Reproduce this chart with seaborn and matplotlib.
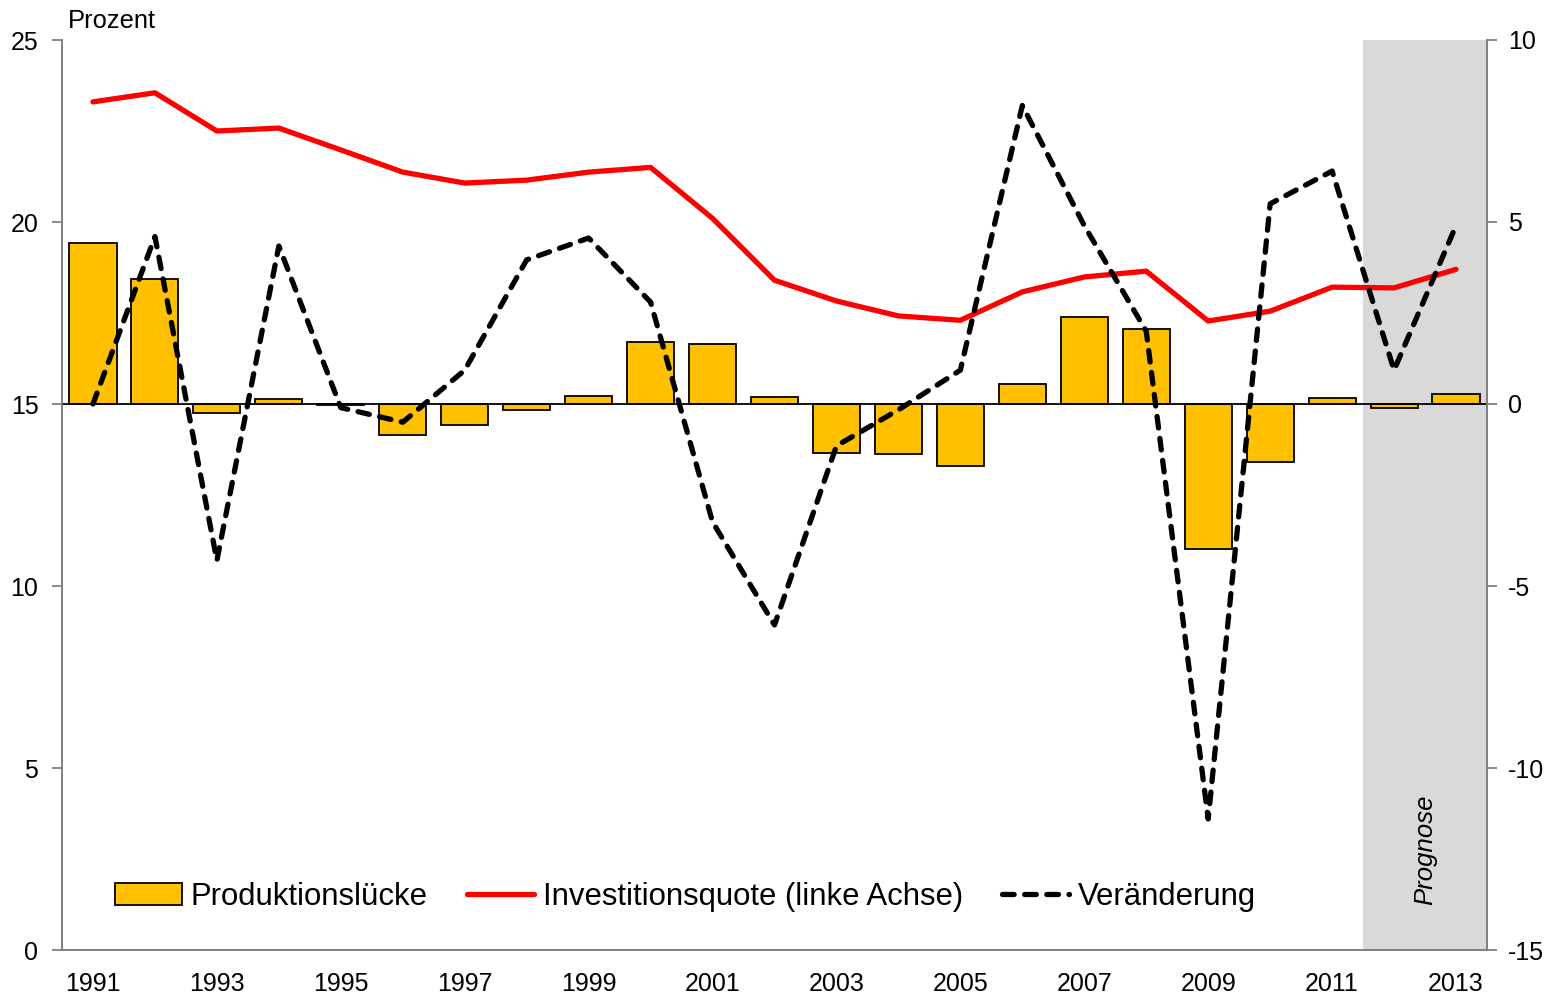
import numpy as np
import matplotlib
matplotlib.use("Agg")
import matplotlib.pyplot as plt
import seaborn as sns

years = [str(y) for y in range(1991, 2014)]

# Investitionsquote, Prozent (linke Achse)
quote = [23.3, 23.55, 22.5, 22.58, 21.98, 21.37, 21.07, 21.15, 21.37, 21.5, 20.1,
         18.4, 17.83, 17.42, 17.3, 18.08, 18.49, 18.65, 17.28, 17.55, 18.21, 18.19, 18.7]

# Produktionslücke (rechte Achse)
luecke = [4.42, 3.43, -0.25, 0.14, -0.03, -0.85, -0.58, -0.16, 0.22, 1.70, 1.65,
          0.19, -1.35, -1.37, -1.70, 0.55, 2.39, 2.06, -3.98, -1.59, 0.16, -0.11, 0.27]

# Veränderung (rechte Achse)
veraenderung = [0.0, 4.6, -4.3, 4.34, -0.1, -0.5, 0.93, 3.96, 4.56, 2.8, -3.24,
                -6.07, -1.15, -0.16, 0.93, 8.2, 4.9, 2.0, -11.4, 5.5, 6.4, 0.93, 4.9]

sns.set_style("white")
plt.rcParams["font.family"] = ["Liberation Sans", "DejaVu Sans"]
plt.rcParams["axes.unicode_minus"] = False
plt.rcParams["text.color"] = "black"
plt.rcParams["xtick.color"] = "black"
plt.rcParams["ytick.color"] = "black"

grey = "#808080"
pos = np.arange(len(years))

fig = plt.figure(figsize=(15.56, 9.94), dpi=100)
ax = fig.add_axes([62 / 1556, 1 - 950 / 994, 1425 / 1556, 910 / 994])
ax2 = ax.twinx()

# Prognose band
ax.axvspan(20.5, 22.5, color="#d9d9d9", zorder=0, lw=0)
ax.text(21.5, 2.75, "Prognose", rotation=90, style="italic", fontsize=18.5,
        ha="center", va="center")

sns.lineplot(x=pos, y=quote, ax=ax, color="#ff0000", lw=3.8,
             label="Investitionsquote (linke Achse)", legend=False)
ax.lines[-1].set_solid_capstyle("round")

sns.barplot(x=years, y=luecke, ax=ax2, color="#ffc000", width=0.76,
            edgecolor="black", linewidth=1.3, saturation=1,
            label="Produktionslücke")
ax2.axhline(0, color="black", lw=1.3, zorder=1.5)
sns.lineplot(x=pos, y=veraenderung, ax=ax2, color="black", lw=3.8,
             label="Veränderung", legend=False)
dash = ax2.lines[-1]
dash.set_dashes((2.2, 2.0))
dash.set_dash_capstyle("round")

ax.set_ylim(0, 25)
ax2.set_ylim(-15, 10)
ax.set_yticks(np.arange(0, 26, 5))
ax2.set_yticks(np.arange(-15, 11, 5))
ax.set_xlim(-0.5, 22.5)

ax.set_xticks(pos[::2])
ax.set_xticklabels(years[::2])
ax.set_xticks([-0.5, 3.5, 7.5, 11.5, 15.5, 19.5], minor=True)
ax.tick_params(axis="x", which="major", length=0, labelsize=18, pad=15.5)
ax.tick_params(axis="x", which="minor", length=8, width=1.3, color=grey, direction="out")
ax.tick_params(axis="y", length=7, width=1.3, color=grey, labelsize=18, pad=10, direction="out")
ax2.tick_params(axis="y", length=7, width=1.3, color=grey, labelsize=18, pad=8, direction="out")
ax.set_xlabel("")
ax2.set_xlabel("")
ax.set_ylabel("")
ax2.set_ylabel("")

for a in (ax, ax2):
    a.spines["top"].set_visible(False)
    for s in ("left", "right", "bottom"):
        a.spines[s].set_color(grey)
        a.spines[s].set_linewidth(1.3)

ax.text(0.004, 1.013, "Prozent", transform=ax.transAxes, fontsize=18.4,
        ha="left", va="baseline")

h2, l2 = ax2.get_legend_handles_labels()
h1, l1 = ax.get_legend_handles_labels()
handles = [h2[l2.index("Produktionslücke")], h1[0], h2[l2.index("Veränderung")]]
labels = ["Produktionslücke", "Investitionsquote (linke Achse)", "Veränderung"]
leg = ax2.legend(handles, labels, loc="center left", bbox_to_anchor=(0.037, 0.058),
                 ncol=3, frameon=False, fontsize=22.4, handlelength=2.15,
                 handletextpad=0.3, columnspacing=1.25, borderpad=0, borderaxespad=0)

fig.savefig("out.png", dpi=100)
